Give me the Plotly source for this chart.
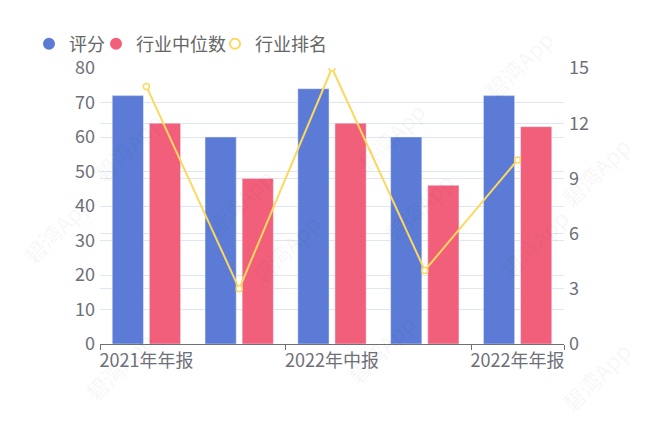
import plotly.graph_objects as go

# report periods (only every other label is shown on the axis)
periods = ["2021年年报", "2022年一季报", "2022年中报", "2022年三季报", "2022年年报"]
shown_labels = ["2021年年报", "2022年中报", "2022年年报"]

score = [72, 60, 74, 60, 72]
industry_median = [64, 48, 64, 46, 63]
industry_rank = [14, 3, 15, 4, 10]

left_ticks = [0, 10, 20, 30, 40, 50, 60, 70, 80]
right_ticks = [0, 3, 6, 9, 12, 15]

BLUE = "#5b7bd6"
PINK = "#f25f7b"
YELLOW = "#fdd85e"
GRID = "#e0e6f1"
AXIS = "#6e7079"
FONT = "Noto Sans CJK SC, Noto Sans, sans-serif"

# plot area in page pixels (the page itself sits 8px in from the corner)
PL, PR, PT, PB = 100, 564, 68, 344


def px_x(v):
    return (v - PL) / (PR - PL)


def px_y(v):
    return (PB - v) / (PB - PT)


fig = go.Figure()

fig.add_trace(go.Bar(x=periods, y=score, name="评分", marker=dict(color=BLUE),
                     showlegend=False, yaxis="y"))
fig.add_trace(go.Bar(x=periods, y=industry_median, name="行业中位数", marker=dict(color=PINK),
                     showlegend=False, yaxis="y"))
fig.add_trace(go.Scatter(x=periods, y=industry_rank, name="行业排名", mode="lines+markers",
                         line=dict(color=YELLOW, width=2),
                         marker=dict(symbol="circle", size=6, color="white",
                                     line=dict(color=YELLOW, width=1.5)),
                         showlegend=False, yaxis="y2"))

# legend-only entries, one legend each so the spacing can follow the original
# (last value = wanted marker centre in page pixels)
legend_items = [("评分", BLUE, "circle", "legend", 48),
                ("行业中位数", PINK, "circle", "legend2", 115),
                ("行业排名", YELLOW, "circle-open", "legend3", 234)]
for name, color, sym, lg, _ in legend_items:
    fig.add_trace(go.Scatter(x=[None], y=[None], mode="markers", name=name, legend=lg,
                             marker=dict(symbol=sym, size=10, color=color,
                                         line=dict(color=color, width=2)),
                             yaxis="y"))

# helper axis that only carries the tick marks on category boundaries
fig.add_trace(go.Scatter(x=[None], y=[None], xaxis="x2", yaxis="y", showlegend=False,
                         hoverinfo="skip"))

# faint watermark
wm_spots = [(83, 103), (390, 93), (563, 20), (194, 203), (463, 207), (640, 127),
            (12, 273), (285, 293), (578, 287), (74, 410), (380, 393), (640, 420)]
for wx, wy in wm_spots:
    fig.add_annotation(text="碧湾App", x=px_x(wx), y=px_y(wy), xref="paper", yref="paper",
                       showarrow=False, textangle=-45,
                       font=dict(size=22, color="rgba(0,0,0,0.05)", family=FONT))

legend_style = dict(orientation="h", xanchor="left", yanchor="middle", y=px_y(44),
                    font=dict(size=18, color="#666666"), bgcolor="rgba(0,0,0,0)",
                    itemwidth=30)

fig.update_layout(
    width=648, height=432,
    margin=dict(l=92, r=92, t=60, b=96),
    paper_bgcolor="white", plot_bgcolor="white",
    barmode="group", bargap=0.2, bargroupgap=0.16,
    font=dict(family=FONT, color=AXIS, size=18),
    legend=dict(x=px_x(legend_items[0][4] - 19), **legend_style),
    legend2=dict(x=px_x(legend_items[1][4] - 19), **legend_style),
    legend3=dict(x=px_x(legend_items[2][4] - 19), **legend_style),
    xaxis=dict(type="category", categoryorder="array", categoryarray=periods,
               range=[-0.5, 4.5], tickvals=shown_labels, ticktext=shown_labels,
               ticks="", showgrid=False, showline=True, linecolor=AXIS, linewidth=1,
               tickfont=dict(size=18, color=AXIS), zeroline=False),
    xaxis2=dict(overlaying="x", anchor="y", side="bottom", range=[-0.5, 4.5],
                tickvals=[-0.5, 1.5, 3.5, 4.5], ticks="outside", ticklen=5,
                tickcolor=AXIS, showticklabels=False, showgrid=False, zeroline=False,
                showline=False),
    yaxis=dict(range=[0, 80], tickvals=left_ticks, showgrid=True, gridcolor=GRID,
               zeroline=False, showline=False, ticks="", ticklabelstandoff=4,
               tickfont=dict(size=18, color=AXIS)),
    yaxis2=dict(range=[0, 15], tickvals=right_ticks, overlaying="y", side="right",
                showgrid=True, gridcolor=GRID, zeroline=False, showline=False,
                ticks="", ticklabelstandoff=4, tickfont=dict(size=18, color=AXIS)),
)

fig.write_html("out.html")
